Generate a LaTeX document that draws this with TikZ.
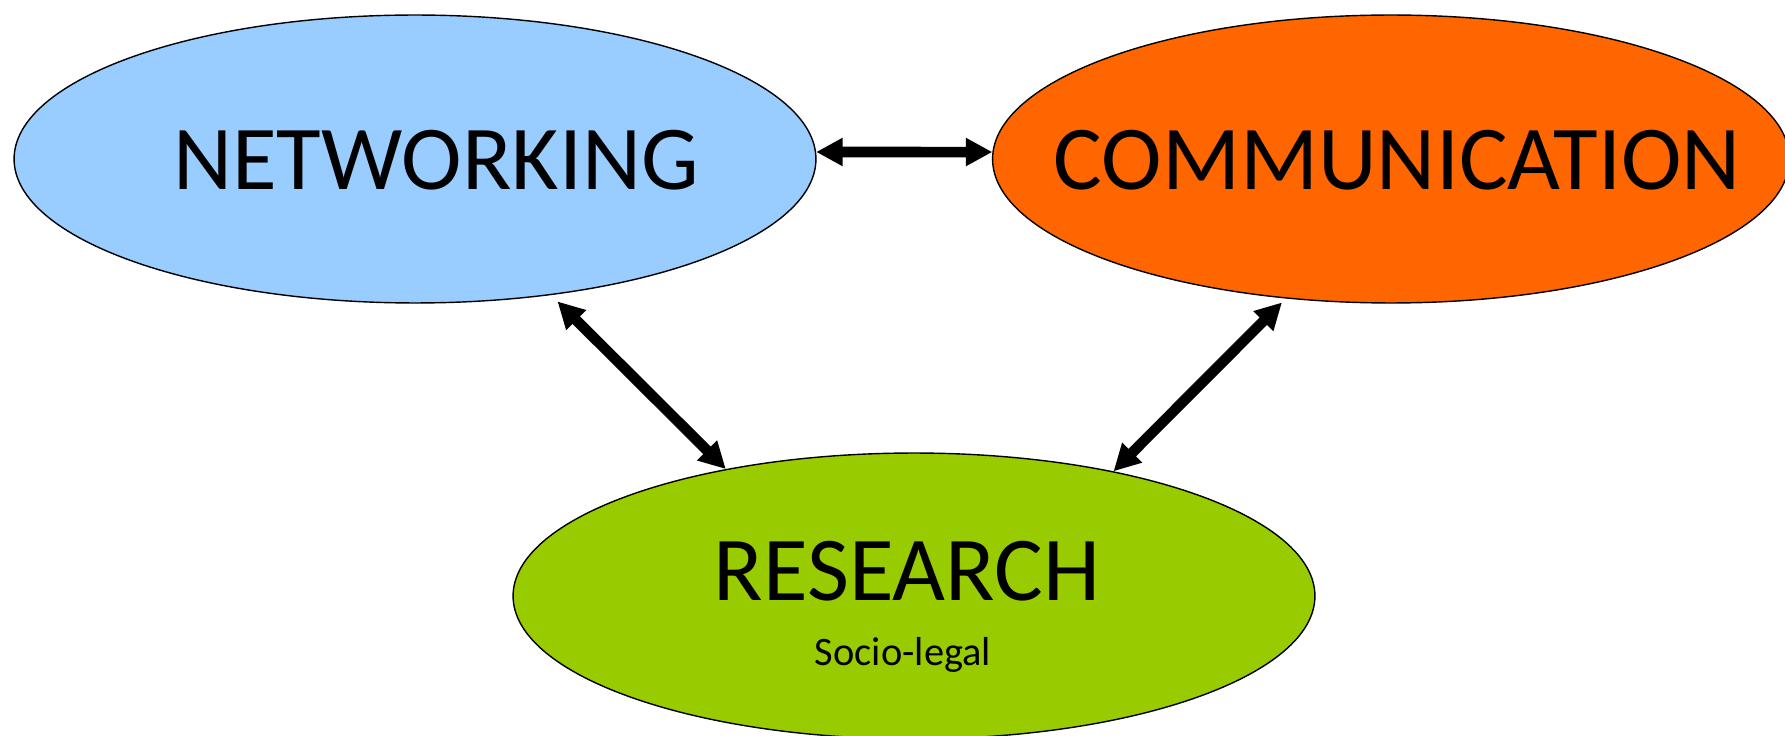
\documentclass[tikz,border=0pt]{standalone}
\usepackage{fontspec}
\setmainfont{Carlito}
\usetikzlibrary{shapes.geometric}
\usetikzlibrary{arrows.meta}
\definecolor{netblue}{HTML}{99CCFF}
\definecolor{comorange}{HTML}{FF6600}
\definecolor{resgreen}{HTML}{99CC00}

\begin{document}
\begin{tikzpicture}[x=0.02cm, y=-0.02cm,
    blob/.style={ellipse, draw=black, line width=0.8pt, inner sep=0pt},
    bigtext/.style={anchor=base, inner sep=0pt, font=\fontsize{52}{60}\selectfont},
    smalltext/.style={anchor=base, inner sep=0pt, font=\fontsize{23}{28}\selectfont},
    link/.style={line width=6pt, {Triangle[length=0.53cm,width=0.53cm]}-{Triangle[length=0.53cm,width=0.53cm]}}]
    \useasboundingbox (0,0) rectangle (1785,736);
    \clip (0,0) rectangle (1785,736);
    %ellipses
    \node[blob, fill=netblue, minimum width=16.04cm, minimum height=5.76cm] (net) at (415,159) {};
    \node[blob, fill=comorange, minimum width=15.94cm, minimum height=5.76cm] (com) at (1391,159) {};
    \node[blob, fill=resgreen, minimum width=16.04cm, minimum height=5.72cm] (res) at (914,596) {};
    %labels
    \node[bigtext] (netlabel) at (436,190) {NETWORKING};
    \node[bigtext] (comlabel) at (1397,190) {COMMUNICATION};
    \node[bigtext] (reslabel) at (907,600) {RESEARCH};
    \node[smalltext] (sublabel) at (903,665) {Socio-legal};
    %arrows
    \draw[link] (net.1) -- (com.179);
    \draw[link, shorten <=0.18cm] (net.-45) -- (res.146);
    \draw[link, shorten <=0.11cm] (com.-127) -- (res.32);
\end{tikzpicture}
\end{document}
